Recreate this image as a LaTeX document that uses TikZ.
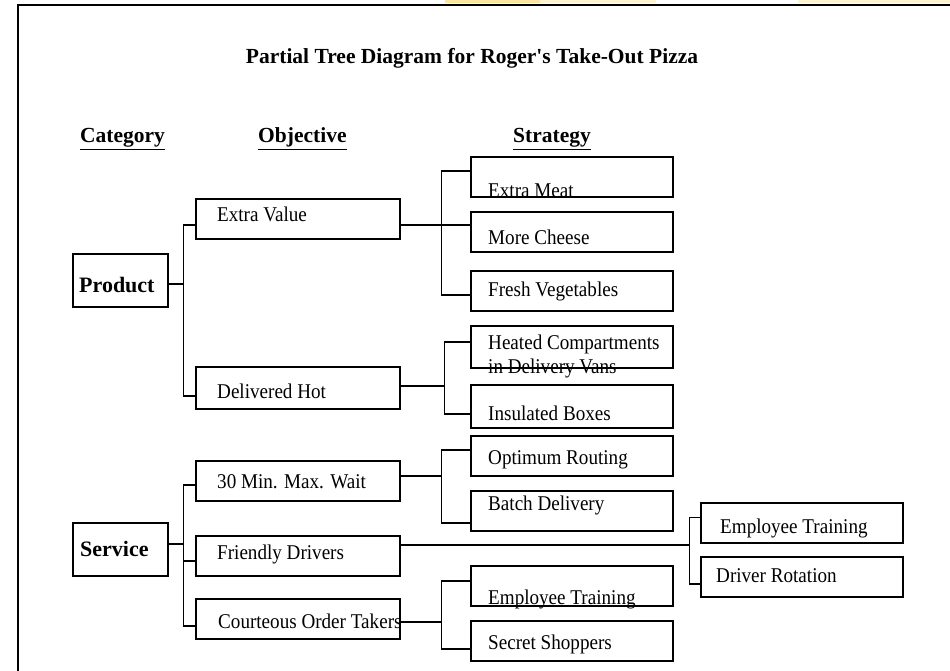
\documentclass[tikz,border=0pt]{standalone}
\usepackage{fontspec}
\setmainfont{Liberation Serif}
\newfontfamily\narrowserif[FakeStretch=0.91]{Liberation Serif}
\usetikzlibrary{calc}
\definecolor{topglowA}{HTML}{FBE6A0}
\definecolor{topglowB}{HTML}{FDF3D3}
\begin{document}
\begin{tikzpicture}[x=1pt,y=-1pt,
  frameline/.style={line width=2pt, draw=black},
  boxline/.style={draw=black, line width=1.6pt, rectangle, inner sep=0pt, anchor=north west},
  catbox/.style={boxline, minimum width=95pt, minimum height=53pt},
  objbox/.style={boxline, minimum width=204pt, minimum height=40pt},
  strbox/.style={boxline, minimum width=202pt, minimum height=40pt},
  txt/.style={anchor=base west, inner sep=0pt, font=\narrowserif\fontsize{21}{24}\selectfont},
  boldtxt/.style={anchor=base west, inner sep=0pt, font=\fontsize{22}{24}\selectfont\bfseries},
  headtxt/.style={anchor=base west, inner sep=0pt, font=\fontsize{21.5}{24}\selectfont\bfseries},
  link/.style={draw=black, line width=1.6pt}]
\useasboundingbox (0,0) rectangle (950,671);
\fill[white] (0,0) rectangle (950,671);

% thin tinted strip above the frame
\fill[topglowA] (445,0) rectangle (540,3.5);
\fill[topglowB] (540,0) rectangle (656,3.5);
\fill[topglowB] (798,0) rectangle (950,3.5);

% page frame
\draw[frameline] (950,5) -- (18,5) -- (18,671);

% title and column headings
\node[anchor=base, inner sep=0pt, font=\fontsize{21.5}{24}\selectfont\bfseries] (ttl) at (472,64)
  {Partial Tree Diagram for Roger\textquotesingle s Take-Out Pizza};
\node[headtxt] (hcat) at (80,143) {\underline{Category}};
\node[headtxt] (hobj) at (258,143) {\underline{Objective}};
\node[headtxt] (hstr) at (513,143) {\underline{Strategy}};

% category boxes
\node[catbox] (prod) at (72,253) {};
\node[boldtxt] (prodt) at (79,292) {Product};
\node[catbox] (serv) at (72,522) {};
\node[boldtxt] (servt) at (80,556) {Service};

% objective boxes
\node[objbox] (ev) at (195,198) {};
\node[txt] (evt) at (217,222) {Extra Value};
\node[objbox, minimum height=42pt] (dh) at (195,366) {};
\node[txt] (dht) at (217,398) {Delivered Hot};
\node[objbox] (mw) at (195,460) {};
\node[txt] (mwt) at (217,488) {30 Min. Max. Wait};
\node[objbox] (fd) at (195,535) {};
\node[txt] (fdt) at (217,559) {Friendly Drivers};
\node[objbox] (co) at (195,598) {};
\node[txt] (cot) at (218,628) {Courteous Order Takers};

% strategy boxes
\node[strbox] (em) at (470,156) {};
\node[txt] (emt) at (488,198) {Extra Meat};
\node[strbox] (mc) at (470,211) {};
\node[txt] (mct) at (488,244) {More Cheese};
\node[strbox] (fv) at (470,270) {};
\node[txt] (fvt) at (488,296) {Fresh Vegetables};
\node[strbox, minimum height=42pt] (hc) at (470,325) {};
\node[txt] (hct) at (488,349) {Heated Compartments};
\node[txt] (hcu) at (488,373) {in Delivery Vans};
\node[strbox, minimum height=43pt] (ib) at (470,384) {};
\node[txt] (ibt) at (488,420) {Insulated Boxes};
\node[strbox] (opt) at (470,435) {};
\node[txt] (optt) at (488,464) {Optimum Routing};
\node[strbox] (bd) at (470,490) {};
\node[txt] (bdt) at (488,510) {Batch Delivery};
\node[strbox] (eta) at (470,565) {};
\node[txt] (etat) at (488,604) {Employee Training};
\node[strbox] (ss) at (470,620) {};
\node[txt] (sst) at (488,649) {Secret Shoppers};
\node[strbox] (etb) at (700,502) {};
\node[txt] (etbt) at (720,533) {Employee Training};
\node[strbox] (dr) at (700,556) {};
\node[txt] (drt) at (716,582) {Driver Rotation};

% connectors: category -> objective
\draw[link] ([yshift=-3.5pt]prod.east) -- ++(15,0) |- ([yshift=-6pt]ev.west);
\draw[link] ([yshift=-3.5pt]prod.east) ++(15,0) |- ([yshift=-8pt]dh.west);
\draw[link] ([yshift=5.5pt]serv.east) -- ++(15,0) |- ([yshift=-4pt]mw.west);
\draw[link] ([yshift=5.5pt]serv.east) ++(15,0) |- ([yshift=-5pt]fd.west);
\draw[link] ([yshift=5.5pt]serv.east) ++(15,0) |- ([yshift=-7pt]co.west);

% connectors: objective -> strategy
\draw[link] ([yshift=-6pt]ev.east) -- ++(41,0) |- ([yshift=7pt]mc.west);
\draw[link] ([yshift=-6pt]ev.east) ++(41,0) |- ([yshift=5.5pt]em.west);
\draw[link] ([yshift=-6pt]ev.east) ++(41,0) |- ([yshift=-4pt]fv.west);

\draw[link] ([yshift=2pt]dh.east) -- ++(44,0) |- ([yshift=5pt]hc.west);
\draw[link] ([yshift=2pt]dh.east) ++(44,0) |- ([yshift=-7.5pt]ib.west);

\draw[link] ([yshift=5pt]mw.east) -- ++(41,0) |- ([yshift=6pt]opt.west);
\draw[link] ([yshift=5pt]mw.east) ++(41,0) |- ([yshift=-12pt]bd.west);

\draw[link] ([yshift=11pt]fd.east) -- ++(289,0) |- ([yshift=5.5pt]etb.west);
\draw[link] ([yshift=11pt]fd.east) ++(289,0) |- ([yshift=-7pt]dr.west);

\draw[link] ([yshift=-3pt]co.east) -- ++(41,0) |- ([yshift=5pt]eta.west);
\draw[link] ([yshift=-3pt]co.east) ++(41,0) |- ([yshift=-8pt]ss.west);
\end{tikzpicture}
\end{document}
